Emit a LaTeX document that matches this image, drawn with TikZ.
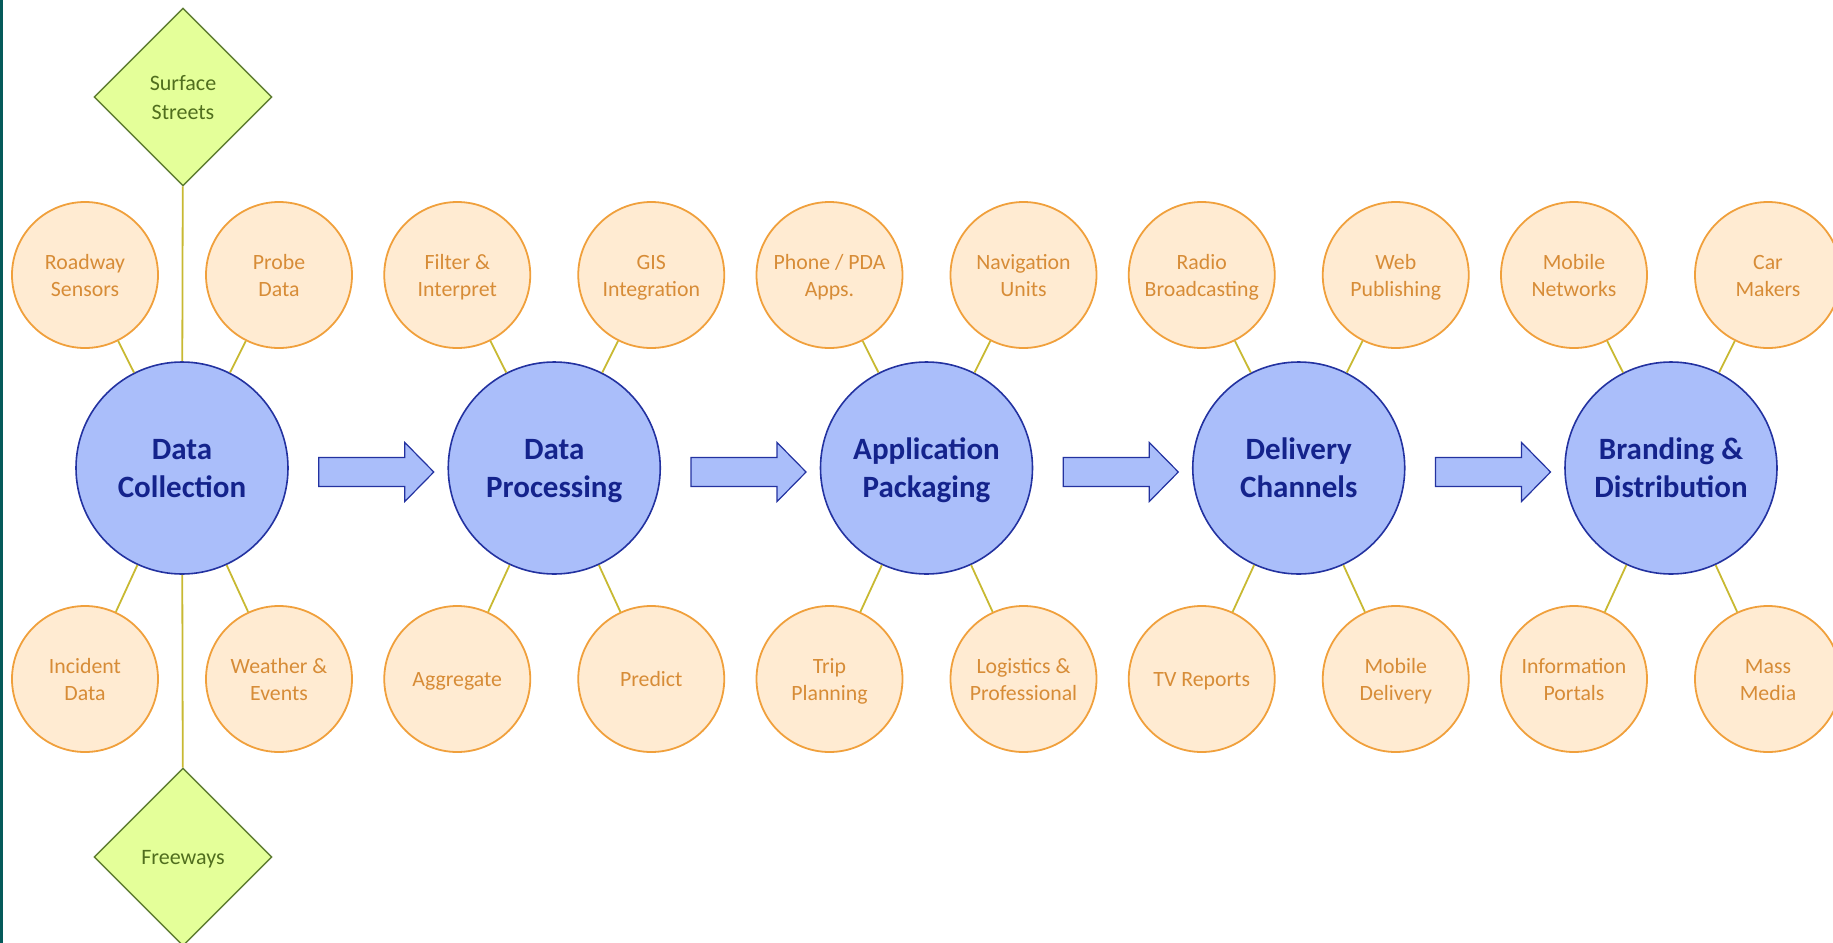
\documentclass[tikz,border=0pt]{standalone}
\usepackage{fontspec}
\setmainfont{Carlito}
\usetikzlibrary{shapes.geometric,calc}

\definecolor{hubfill}{RGB}{170,190,250}
\definecolor{hubline}{RGB}{35,50,160}
\definecolor{hubtext}{RGB}{20,35,140}
\definecolor{leaffill}{RGB}{255,235,210}
\definecolor{leafline}{RGB}{240,160,60}
\definecolor{leaftext}{RGB}{215,140,55}
\definecolor{linkcol}{RGB}{200,185,50}
\definecolor{roadfill}{RGB}{228,255,153}
\definecolor{roadline}{RGB}{95,125,50}
\definecolor{roadtext}{RGB}{80,110,30}
\definecolor{edgecol}{RGB}{5,90,90}

\begin{document}
\begin{tikzpicture}[x=0.5pt,y=-0.5pt,
  hub/.style={circle,draw=hubline,fill=hubfill,line width=0.8pt,minimum size=106pt,
    inner sep=0pt,text=hubtext,align=center,font=\fontsize{15.5}{19.2}\selectfont\bfseries,
    text height=29.8pt,text depth=0pt},
  leaf/.style={circle,draw=leafline,fill=leaffill,line width=0.9pt,minimum size=73pt,
    inner sep=0pt,text=leaftext,align=center,font=\fontsize{10.9}{13.7}\selectfont,
    text height=21.7pt,text depth=0pt},
  road/.style={diamond,aspect=1,draw=roadline,fill=roadfill,line width=0.7pt,minimum size=89pt,
    inner sep=0pt,text=roadtext,align=center,font=\fontsize{11}{14.3}\selectfont,
    text height=22.3pt,text depth=0pt},
  oneline/.style={text height=7.8pt},
  link/.style={draw=linkcol,line width=0.9pt},
  bigarrow/.style={draw=hubline,fill=hubfill,line width=0.6pt,line join=miter}]

\useasboundingbox (0,0) rectangle (1833,943);
\clip (0,0) rectangle (1833,943);

% 左侧边条
\fill[edgecol] (0,0) rectangle (3,943);

% 中心圆
\node[hub] (dc) at (182,468)     {Data\\Collection};
\node[hub] (dp) at (554.25,468)  {Data\\Processing};
\node[hub] (ap) at (926.5,468)   {Application\\Packaging};
\node[hub] (dl) at (1298.75,468) {Delivery\\Channels};
\node[hub] (bd) at (1671,468)    {Branding \&\\Distribution};

% 周围小圆
\node[leaf] (dc-ul) at (85,275)  {Roadway\\Sensors};
\node[leaf] (dc-ur) at (279,275) {Probe\\Data};
\node[leaf] (dc-ll) at (85,679)  {Incident\\Data};
\node[leaf] (dc-lr) at (279,679) {Weather \&\\Events};

\node[leaf] (dp-ul) at (457.25,275) {Filter \&\\Interpret};
\node[leaf] (dp-ur) at (651.25,275) {GIS\\Integration};
\node[leaf,oneline] (dp-ll) at (457.25,679) {Aggregate};
\node[leaf,oneline] (dp-lr) at (651.25,679) {Predict};

\node[leaf] (ap-ul) at (829.5,275)  {Phone / PDA\\Apps.};
\node[leaf] (ap-ur) at (1023.5,275) {Navigation\\Units};
\node[leaf] (ap-ll) at (829.5,679)  {Trip\\Planning};
\node[leaf] (ap-lr) at (1023.5,679) {Logistics \&\\Professional};

\node[leaf] (dl-ul) at (1201.75,275) {Radio\\Broadcasting};
\node[leaf] (dl-ur) at (1395.75,275) {Web\\Publishing};
\node[leaf,oneline] (dl-ll) at (1201.75,679) {TV Reports};
\node[leaf] (dl-lr) at (1395.75,679) {Mobile\\Delivery};

\node[leaf] (bd-ul) at (1574,275) {Mobile\\Networks};
\node[leaf] (bd-ur) at (1768,275) {Car\\Makers};
\node[leaf] (bd-ll) at (1574,679) {Information\\Portals};
\node[leaf] (bd-lr) at (1768,679) {Mass\\Media};

% 连线
\foreach \h in {dc,dp,ap,dl,bd}{
  \foreach \s in {ul,ur,ll,lr}{
    \draw[link] (\h) -- (\h-\s);
  }
}

% 道路类型
\node[road] (street) at (183,97)  {Surface\\Streets};
\node[road,oneline] (freeway) at (183,857) {Freeways};
\draw[link] (street) -- (dc);
\draw[link] (dc) -- (freeway);

% 箭头
\foreach \a/\b in {dc/dp,dp/ap,ap/dl,dl/bd}{
  \draw[bigarrow] ($(\a.east)+(30,-10.5)$) -- ++(86,0) -- ++(0,-15) -- ++(29,29.5)
    -- ++(-29,29.5) -- ++(0,-15) -- ++(-86,0) -- cycle;
}

\end{tikzpicture}
\end{document}
